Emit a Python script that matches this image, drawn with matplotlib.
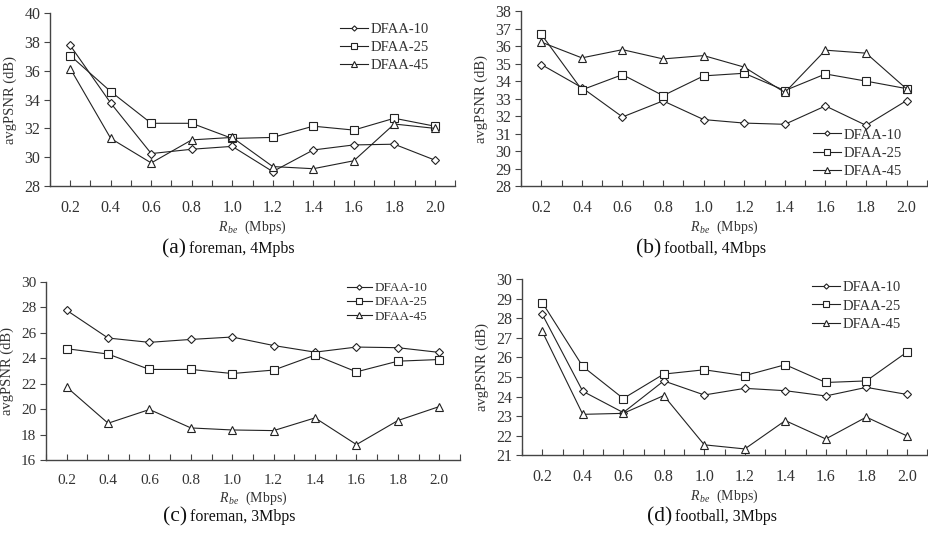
import matplotlib
matplotlib.use("Agg")
import matplotlib.pyplot as plt
import numpy as np

plt.rcParams["font.family"] = ["Liberation Serif", "DejaVu Serif"]
plt.rcParams["mathtext.fontset"] = "custom"
plt.rcParams["mathtext.rm"] = "Liberation Serif"
plt.rcParams["mathtext.it"] = "Liberation Serif:italic"

rbe = [0.2, 0.4, 0.6, 0.8, 1.0, 1.2, 1.4, 1.6, 1.8, 2.0]
series = ["DFAA-10", "DFAA-25", "DFAA-45"]

# (a) foreman, 4Mbps
a_10 = [37.75, 33.75, 30.25, 30.55, 30.75, 29.0, 30.5, 30.85, 30.9, 29.8]
a_25 = [37.05, 34.55, 32.35, 32.35, 31.3, 31.37, 32.15, 31.88, 32.7, 32.15]
a_45 = [36.15, 31.3, 29.6, 31.2, 31.37, 29.35, 29.2, 29.75, 32.3, 32.0]
# (b) football, 4Mbps
b_10 = [34.95, 33.63, 31.95, 32.87, 31.8, 31.6, 31.53, 32.58, 31.47, 32.89]
b_25 = [36.68, 33.5, 34.37, 33.17, 34.3, 34.45, 33.46, 34.41, 34.0, 33.57]
b_45 = [36.23, 35.33, 35.8, 35.27, 35.46, 34.8, 33.35, 35.77, 35.6, 33.55]
# (c) foreman, 3Mbps
c_10 = [27.77, 25.59, 25.25, 25.48, 25.67, 25.0, 24.48, 24.88, 24.83, 24.46]
c_25 = [24.75, 24.33, 23.12, 23.12, 22.8, 23.07, 24.25, 22.93, 23.77, 23.9]
c_45 = [21.73, 18.89, 19.97, 18.52, 18.36, 18.31, 19.31, 17.21, 19.1, 20.2]
# (d) football, 3Mbps
d_10 = [28.21, 24.27, 23.18, 24.8, 24.08, 24.42, 24.3, 24.03, 24.47, 24.11]
d_25 = [28.81, 25.54, 23.9, 25.15, 25.37, 25.07, 25.63, 24.72, 24.8, 26.27]
d_45 = [27.33, 23.09, 23.14, 24.05, 21.53, 21.32, 22.77, 21.83, 22.95, 21.99]

markers = ["D", "s", "^"]
msizes = [3.8, 5.5, 5.5]

fig = plt.figure(figsize=(9.29, 5.33), dpi=100)

panels = [
    # rect, data, ylim, yticks, tick font, legend font, legend anchor, labelspacing, caption
    ([0.0538, 0.651, 0.436, 0.3246], [a_10, a_25, a_45], (28, 40), np.arange(28, 41, 2), 11.5, 10.5,
     (0.716, 0.945), 0.35, ("(a)", "foreman, 4Mpbs", 186.5, 253)),
    ([0.5608, 0.651, 0.437, 0.328], [b_10, b_25, b_45], (28, 38), np.arange(28, 39, 1), 11.5, 10.5,
     (0.719, 0.33), 0.35, ("(b)", "football, 4Mbps", 661, 253)),
    ([0.0495, 0.137, 0.4456, 0.334], [c_10, c_25, c_45], (16, 30), np.arange(16, 31, 2), 11, 9.5,
     (0.727, 1.0), 0.15, ("(c)", "foreman, 3Mbps", 187, 521)),
    ([0.5619, 0.146, 0.436, 0.330], [d_10, d_25, d_45], (21, 30), np.arange(21, 31, 1), 11.5, 10.5,
     (0.716, 0.99), 0.35, ("(d)", "football, 3Mbps", 672, 521)),
]

txt = "#333333"
for rect, data, ylim, yticks, fs, lfs, anchor, lspace, cap in panels:
    ax = fig.add_axes(rect)
    for vals, name, m, ms in zip(data, series, markers, msizes):
        ax.plot(rbe, vals, color="#222222", lw=0.8, marker=m, ms=ms,
                mfc="white", mec="#222222", mew=0.8, label=name)
    ax.set_xlim(0.1, 2.1)
    ax.set_ylim(*ylim)
    ax.set_yticks(yticks)
    ax.set_xticks(rbe)
    ax.set_xticklabels(["%.1f" % v for v in rbe])
    ax.set_xticks(np.arange(0.1, 2.15, 0.2), minor=True)
    for s in ["top", "right"]:
        ax.spines[s].set_visible(False)
    for s in ["left", "bottom"]:
        ax.spines[s].set_color("#444444")
        ax.spines[s].set_linewidth(1.0)
    ax.tick_params(axis="x", which="both", direction="in", length=4, width=0.8,
                   color="#444444", pad=10, labelsize=fs, labelcolor=txt)
    ax.tick_params(axis="y", direction="out", length=4, width=0.8,
                   color="#444444", pad=3, labelsize=fs, labelcolor=txt)
    ax.set_ylabel("avgPSNR (dB)", fontsize=10.5, color=txt, labelpad=5)
    ax.set_xlabel(r"$R_{\,be}$  (Mbps)", fontsize=10, color=txt, labelpad=2)
    ax.legend(loc="upper left", bbox_to_anchor=anchor, frameon=False,
              borderpad=0, borderaxespad=0, handlelength=1.9, handletextpad=0.2,
              labelspacing=lspace, markerscale=0.7, fontsize=lfs,
              labelcolor=txt)

    # caption below each panel
    tag, desc, xs, yb = cap
    fig.text(xs / 929, 1 - yb / 533, tag, ha="right", va="baseline",
             fontsize=15.5, color="#111111")
    fig.text((xs + 3) / 929, 1 - yb / 533, desc, ha="left", va="baseline",
             fontsize=11.5, color="#111111")

plt.savefig("out.png", dpi=100)
